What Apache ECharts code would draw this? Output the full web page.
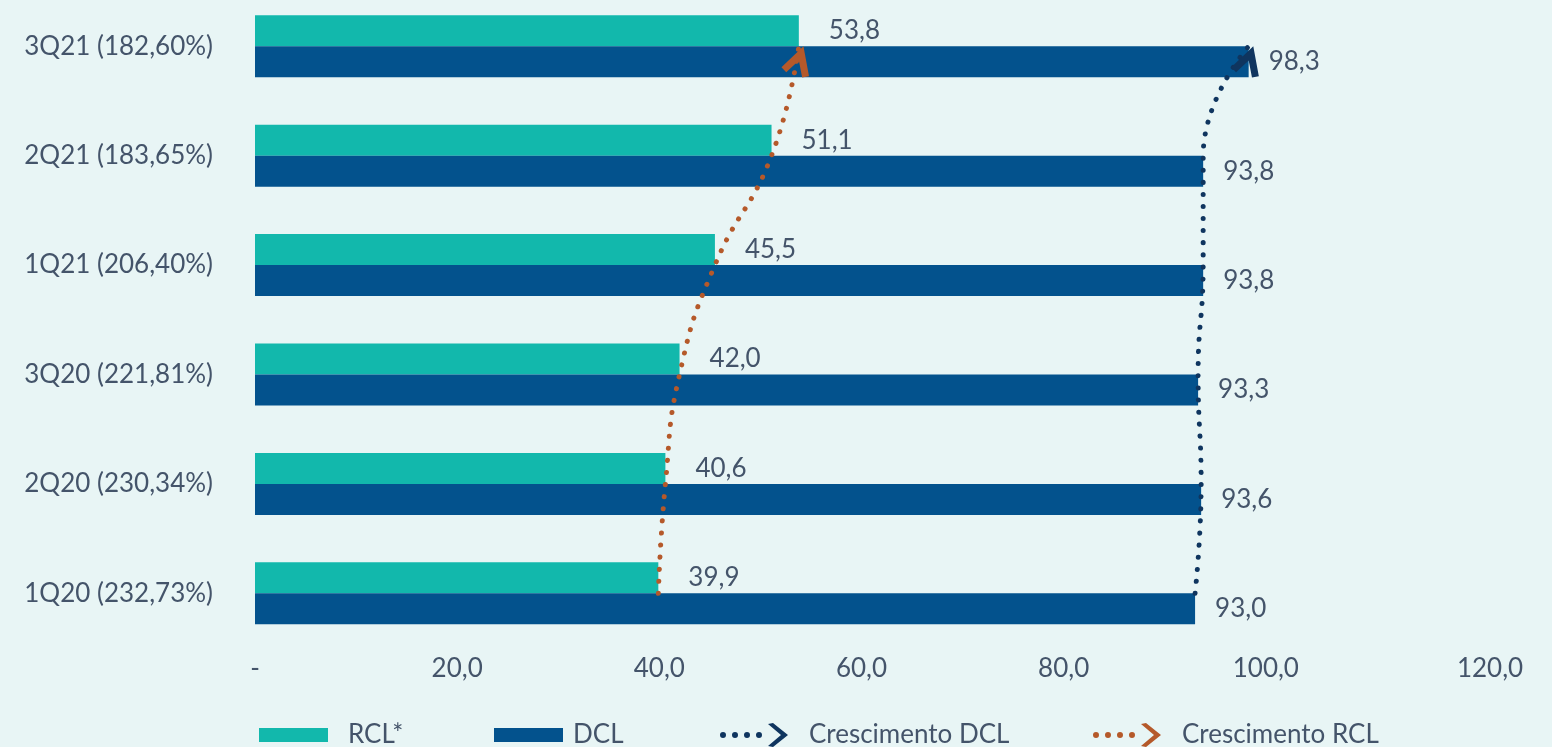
<!DOCTYPE html>
<html><head><meta charset="utf-8">
<script src="https://cdn.jsdelivr.net/npm/echarts@6/dist/echarts.min.js"></script>
<style>html,body{margin:0;padding:0;background:#E8F5F5;}#c{width:1552px;height:747px;}</style>
</head><body><div id="c"></div>
<script>
const categories = ['1Q20 (232,73%)','2Q20 (230,34%)','3Q20 (221,81%)','1Q21 (206,40%)','2Q21 (183,65%)','3Q21 (182,60%)'];
const rclValues = [39.9, 40.6, 42.0, 45.5, 51.1, 53.8];
const dclValues = [93.0, 93.6, 93.3, 93.8, 93.8, 98.3];
const axisTickValues = [0, 20, 40, 60, 80, 100, 120];
const seriesNames = ['RCL*', 'DCL', 'Crescimento DCL', 'Crescimento RCL'];

const TEXT = '#44546A', FONT = 'Lato';
const C_RCL = '#12B8AC', C_DCL = '#03528D', C_GDCL = '#0F355F', C_GRCL = '#B5592A';
const fmt = v => v.toFixed(1).replace('.', ',');

const chevron = 'path://M13,0 L26,24 L20.5,27 L13,13.4 L5.5,27 L0,24 Z';
const lineIcon = 'path://M84,12 L84,12 ' +
  'M0,12 a3,3 0 1,0 6,0 a3,3 0 1,0 -6,0 ' +
  'M12,12 a3,3 0 1,0 6,0 a3,3 0 1,0 -6,0 ' +
  'M24,12 a3,3 0 1,0 6,0 a3,3 0 1,0 -6,0 ' +
  'M36,12 a3,3 0 1,0 6,0 a3,3 0 1,0 -6,0 ' +
  'M48,1 L53,0 L68,12 L53,24 L48,23 L61,12 Z';
const rectIconA = 'path://M0,0 L0,0 M84,24 L84,24 M0,5 L69,5 L69,19 L0,19 Z';
const rectIconB = 'path://M0,0 L0,0 M74,24 L74,24 M0,5 L69,5 L69,19 L0,19 Z';

function lineData(vals) {
  return vals.map((v, i) => {
    const d = { value: [v, categories[i]] };
    if (i === vals.length - 1) {
      d.symbol = chevron; d.symbolSize = [29, 30]; d.symbolRotate = -18; d.symbolOffset = [0, '48%'];
    }
    return d;
  });
}

const legendPos = [259, 494, 720, 1093];
const legendWidths = [84, 74, 84, 84];
const icons = [rectIconA, rectIconB, lineIcon, lineIcon];

const chart = echarts.init(document.getElementById('c'));
chart.setOption({
  backgroundColor: '#E8F5F5',
  animation: false,
  textStyle: { fontFamily: FONT },
  grid: { left: 255, right: 84, top: -8.5, bottom: 99, containLabel: false, outerBoundsMode: 'none' },
  legend: seriesNames.map((n, i) => ({
    data: [{ name: n, icon: icons[i] }],
    left: legendPos[i], top: 722, padding: 0,
    itemWidth: legendWidths[i], itemHeight: 24,
    itemStyle: { borderWidth: 0 },
    textStyle: { color: TEXT, fontSize: 26, fontFamily: FONT }
  })),
  xAxis: {
    type: 'value', min: 0, max: 120, interval: 20,
    axisLine: { show: false }, axisTick: { show: false }, splitLine: { show: false },
    axisLabel: {
      margin: 8, color: TEXT, fontSize: 26, fontFamily: FONT,
      formatter: v => v === 0 ? '-' : (v === 120 ? '{e|' + fmt(v) + '}' : fmt(v)),
      rich: { e: { padding: [0, 0, 0, 44], color: TEXT, fontSize: 26, fontFamily: FONT } }
    }
  },
  yAxis: {
    type: 'category', data: categories,
    axisLine: { show: false }, axisTick: { show: false },
    axisLabel: { margin: 42, color: TEXT, fontSize: 26, fontFamily: FONT }
  },
  series: [
    {
      name: seriesNames[0], type: 'bar', data: rclValues, barWidth: 31, barGap: '0%',
      itemStyle: { color: C_RCL },
      label: { show: true, position: 'right', distance: 30, color: TEXT, fontSize: 26, fontFamily: FONT, formatter: p => fmt(p.value) }
    },
    {
      name: seriesNames[1], type: 'bar', data: dclValues, barWidth: 31, barGap: '0%',
      itemStyle: { color: C_DCL },
      label: { show: true, position: 'right', distance: 20, color: TEXT, fontSize: 26, fontFamily: FONT, formatter: p => fmt(p.value) }
    },
    {
      name: seriesNames[2], type: 'line', smooth: true, data: lineData(dclValues),
      symbol: 'none', showSymbol: true, z: 5,
      itemStyle: { color: C_GDCL },
      lineStyle: { color: C_GDCL, width: 5, type: [0.1, 12], cap: 'round' }
    },
    {
      name: seriesNames[3], type: 'line', smooth: true, data: lineData(rclValues),
      symbol: 'none', showSymbol: true, z: 5,
      itemStyle: { color: C_GRCL },
      lineStyle: { color: C_GRCL, width: 5, type: [0.1, 12], cap: 'round' }
    }
  ]
});
</script></body></html>
